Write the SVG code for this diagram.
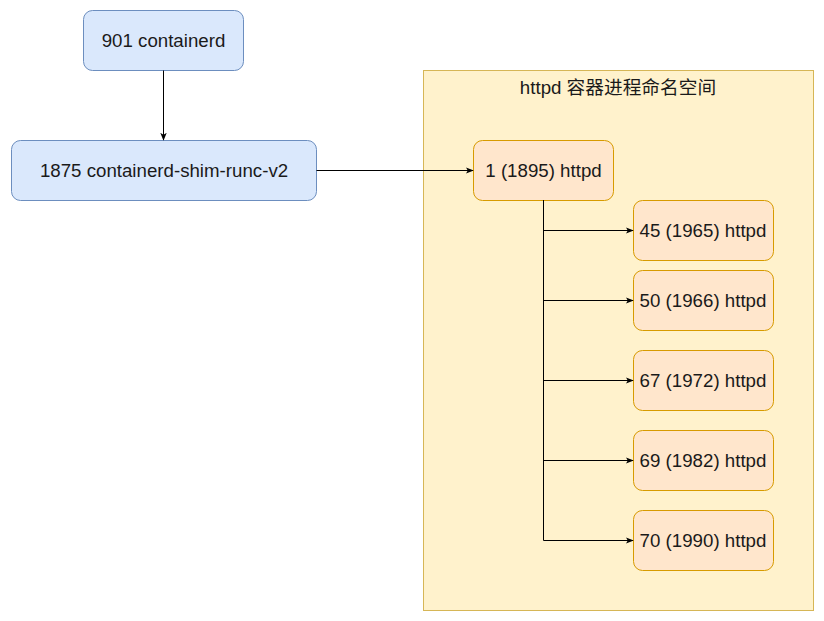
<svg xmlns="http://www.w3.org/2000/svg" width="824" height="621" viewBox="0 0 824 621">
<defs>
<style>
.blue{fill:#dae8fc;stroke:#6c8ebf;stroke-width:1}
.orange{fill:#ffe6cc;stroke:#d79b00;stroke-width:1}
.ns{fill:#fff2cc;stroke:#d6b656;stroke-width:1}
text{font-family:"Liberation Sans",Arial,"Noto Sans CJK SC",sans-serif;font-size:18.7px;fill:#1a1a1a;text-anchor:middle}
.edge{fill:none;stroke:#000;stroke-width:1}
</style>
<marker id="arr" viewBox="0 0 10 10" refX="9" refY="5" markerWidth="8" markerHeight="8" orient="auto" markerUnits="userSpaceOnUse">
<path d="M0,1 L10,5 L0,9 L2.5,5 Z" fill="#000"/>
</marker>
</defs>
<rect width="824" height="621" fill="#fff"/>
<g id="namespace">
<rect class="ns" x="423.5" y="70.5" width="390" height="540"/>
<text x="618" y="94" style="font-size:18.7px">httpd 容器进程命名空间</text>
</g>
<g id="containerd">
<rect class="blue" x="83.5" y="10.5" width="160" height="60" rx="9"/>
<text x="163.5" y="46.5">901 containerd</text>
</g>
<g id="shim">
<rect class="blue" x="11.5" y="140.5" width="305" height="60" rx="9"/>
<text x="164" y="176.5">1875 containerd-shim-runc-v2</text>
</g>
<g id="p1">
<rect class="orange" x="473.5" y="140.5" width="140" height="60" rx="9"/>
<text x="543.5" y="176.5">1 (1895) httpd</text>
</g>
<g id="p45">
<rect class="orange" x="633.5" y="200.5" width="140" height="60" rx="9"/>
<text x="703" y="236.5">45 (1965) httpd</text>
</g>
<g id="p50">
<rect class="orange" x="633.5" y="270.5" width="140" height="60" rx="9"/>
<text x="703" y="306.5">50 (1966) httpd</text>
</g>
<g id="p67">
<rect class="orange" x="633.5" y="350.5" width="140" height="60" rx="9"/>
<text x="703" y="386.5">67 (1972) httpd</text>
</g>
<g id="p69">
<rect class="orange" x="633.5" y="430.5" width="140" height="60" rx="9"/>
<text x="703" y="466.5">69 (1982) httpd</text>
</g>
<g id="p70">
<rect class="orange" x="633.5" y="510.5" width="140" height="60" rx="9"/>
<text x="703" y="546.5">70 (1990) httpd</text>
</g>
<g id="connectors">
<path class="edge" d="M163.5,70.5 V140" marker-end="url(#arr)"/>
<path class="edge" d="M316.5,170.5 H473" marker-end="url(#arr)"/>
<path class="edge" d="M543.5,200.5 V230.5 H633" marker-end="url(#arr)"/>
<path class="edge" d="M543.5,200.5 V300.5 H633" marker-end="url(#arr)"/>
<path class="edge" d="M543.5,200.5 V380.5 H633" marker-end="url(#arr)"/>
<path class="edge" d="M543.5,200.5 V460.5 H633" marker-end="url(#arr)"/>
<path class="edge" d="M543.5,200.5 V540.5 H633" marker-end="url(#arr)"/>
</g>
</svg>
